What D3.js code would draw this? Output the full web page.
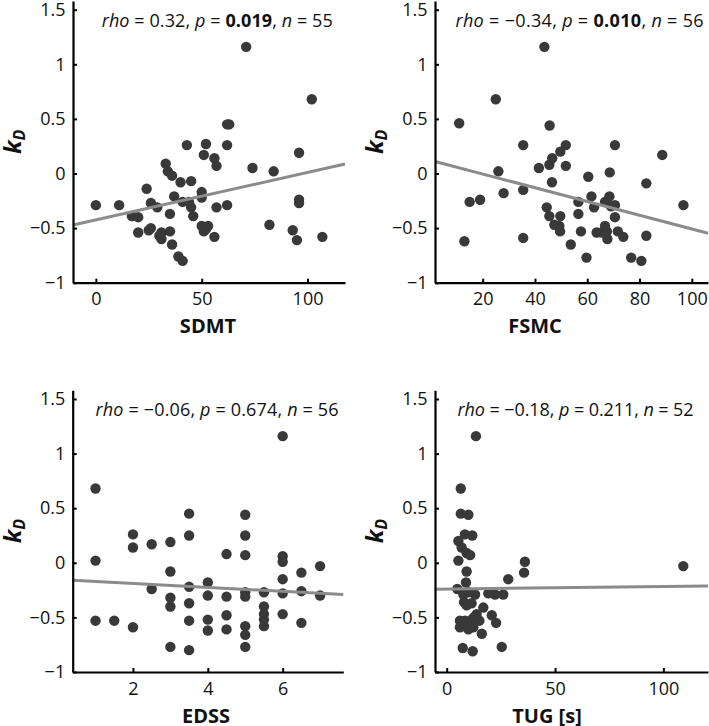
<!DOCTYPE html>
<html><head><meta charset="utf-8">
<script src="https://cdn.jsdelivr.net/npm/d3@7"></script>
<style>
body{margin:0;background:#fff}
svg{display:block}
text{font-family:'Open Sans',sans-serif;fill:#111}
</style>
</head><body>
<svg id="c" width="709" height="726"></svg>
<script>
// ---------- data ----------
const sdmtX = [0,11,17,20,20,24,26,25,26,29,30,31,31,33,34,36,35,35,36,37,40,39,41,41,43,44,45,45,46,50,50,50,51,52,53,52,51,56,57,56,57,62,63,62,62,71,74,82,84,93,95,96,96,96,102,107];
const sdmtY = [-0.29,-0.29,-0.39,-0.40,-0.54,-0.14,-0.27,-0.52,-0.50,-0.31,-0.57,-0.54,-0.60,0.09,0.02,-0.02,-0.37,-0.53,-0.65,-0.21,-0.08,-0.76,-0.80,-0.26,0.26,-0.26,-0.07,-0.31,-0.39,-0.17,-0.22,-0.48,-0.53,-0.51,-0.48,0.27,0.17,0.14,0.07,-0.58,-0.31,0.45,0.45,0.26,-0.29,1.16,0.05,-0.47,0.02,-0.52,-0.61,0.19,-0.24,-0.27,0.68,-0.58];

const fsmcX = [11,13,15,19,25,26,28,35.5,35.5,35.5,41.5,43.6,44.5,45.5,45.5,45.6,46.5,46.6,47.4,49.3,49.6,49.7,49.7,51.8,51.8,53.7,56.6,56.6,57.6,59.7,60.4,61.6,62.6,63.6,65.5,66.8,66.8,67.5,67.7,68.5,68.6,69.1,70.6,70.6,70.6,71.7,73.8,76.8,80.7,82.6,82.6,88.7,96.8];
const fsmcY = [0.46,-0.62,-0.26,-0.24,0.68,0.02,-0.18,0.26,-0.15,-0.59,0.05,1.16,-0.31,-0.39,0.08,0.44,-0.08,0.14,-0.47,-0.48,-0.53,0.20,-0.39,0.26,0.07,-0.65,-0.26,-0.37,-0.53,-0.77,-0.03,-0.21,-0.31,-0.54,-0.54,-0.26,-0.48,-0.53,-0.60,-0.21,0.01,-0.30,-0.29,0.26,-0.40,-0.53,-0.58,-0.77,-0.80,-0.09,-0.57,0.17,-0.29];

const edssX = [1,1,1,1.5,2,2,2,2.5,2.5,3,3,3,3,3,3.5,3.5,3.5,3.5,3.5,3.5,4,4,4,4,4.5,4.5,4.5,4.5,5,5,5,5,5,5,5,5,5.5,5.5,5.5,5.5,5.5,6,6,6,6,6,6,6.5,6.5,6.5,7,7];
const edssY = [0.68,0.02,-0.53,-0.53,0.26,0.14,-0.59,0.17,-0.24,0.19,-0.08,-0.32,-0.40,-0.77,0.45,0.25,-0.22,-0.37,-0.53,-0.80,-0.18,-0.30,-0.52,-0.62,0.08,-0.31,-0.48,-0.61,0.44,0.25,0.07,-0.27,-0.31,-0.58,-0.66,-0.77,-0.27,-0.40,-0.47,-0.52,-0.58,1.16,0.06,0.01,-0.15,-0.28,-0.47,-0.09,-0.26,-0.55,-0.03,-0.30];

const tugX = [13.5,6.5,6.5,10.0,8.4,11.8,5.4,6.9,9.2,10.8,5.4,36.1,35.7,9.2,28.4,8.9,4.9,7.7,10.0,13.1,19.2,22.3,26.1,8.0,9.2,16.9,20.8,22.8,6.1,6.1,8.4,10.8,12.3,13.8,15.1,10.0,16.2,7.4,12.0,25.4,11.5,109.2,7.5,9.0,11.5,12.5];
const tugY = [1.16,0.68,0.45,0.44,0.26,0.25,0.20,0.14,0.09,0.07,0.02,0.01,-0.09,-0.08,-0.15,-0.18,-0.24,-0.29,-0.27,-0.29,-0.28,-0.29,-0.29,-0.36,-0.39,-0.41,-0.48,-0.55,-0.53,-0.59,-0.53,-0.55,-0.59,-0.47,-0.53,-0.61,-0.65,-0.78,-0.81,-0.77,-0.37,-0.03,-0.55,-0.57,-0.52,-0.50];

const xLabels = ["SDMT","FSMC","EDSS","TUG [s]"];
const xTickVals = [[0,50,100],[20,40,60,80,100],[2,4,6],[0,50,100]];
const yTickVals = [-1,-0.5,0,0.5,1,1.5];
const yTickLabels = ["\u22121","\u22120.5","0","0.5","1","1.5"];
const statRho = ["0.32","\u22120.34","\u22120.06","\u22120.18"];
const statP = ["0.019","0.010","0.674","0.211"];
const statSig = [true,true,false,false];
const statN = ["55","56","56","52"];
const fitIntercept = [-0.424, 0.121, -0.153, -0.2407];
const fitSlope = [0.004335, -0.006288, -0.01798, 0.000238];

// ---------- layout ----------
const panels = [
  {xs:sdmtX, ys:sdmtY, xDom:[-10.8,117.7], x0:73,  x1:345, yb:282.7, labC:208, annX:101.7, annW:231},
  {xs:fsmcX, ys:fsmcY, xDom:[1.75,106.2],  x0:435, x1:708, yb:282.7, labC:535, annX:455.5, annW:248},
  {xs:edssX, ys:edssY, xDom:[0.39,7.62],   x0:72.7,x1:343.3,yb:672,  labC:206, annX:95.5,  annW:243},
  {xs:tugX,  ys:tugY,  xDom:[-5.4,120.6],  x0:435, x1:708, yb:672,  labC:547, annX:457.5, annW:236}
];
const yDom = [-1, 1.58];
const pxPerUnit = 109.2;

const svg = d3.select("#c");
const dotCol = "#393939", lineCol = "#8b8b8b";

panels.forEach((p, i) => {
  const x = d3.scaleLinear().domain(p.xDom).range([p.x0, p.x1]);
  const y = d3.scaleLinear().domain(yDom).range([p.yb, p.yb - (yDom[1]-yDom[0])*pxPerUnit]);
  const g = svg.append("g");

  g.selectAll("circle").data(d3.range(p.xs.length)).join("circle")
    .attr("cx", k => x(p.xs[k])).attr("cy", k => y(p.ys[k])).attr("r", 5.2)
    .attr("fill", dotCol);

  const lx = p.xDom;
  g.append("line")
    .attr("x1", x(lx[0])).attr("y1", y(fitIntercept[i] + fitSlope[i]*lx[0]))
    .attr("x2", x(lx[1])).attr("y2", y(fitIntercept[i] + fitSlope[i]*lx[1]))
    .attr("stroke", lineCol).attr("stroke-width", 3);

  const ax = g.append("g").attr("transform", `translate(0,${p.yb})`)
    .call(d3.axisBottom(x).tickValues(xTickVals[i]).tickSize(-4).tickSizeOuter(0).tickPadding(10).tickFormat(d3.format("d")));
  const ay = g.append("g").attr("transform", `translate(${p.x0},0)`)
    .call(d3.axisLeft(y).tickValues(yTickVals).tickSize(-4).tickSizeOuter(0).tickPadding(7.5)
      .tickFormat((d,k) => yTickLabels[k]));
  [ax, ay].forEach(a => {
    a.select(".domain").attr("stroke", "#000").attr("stroke-width", 2.2);
    a.selectAll(".tick line").attr("stroke", "#000").attr("stroke-width", 2);
    a.selectAll(".tick text").attr("font-size", 18).attr("fill", "#111")
      .attr("font-family", "'Open Sans',sans-serif");
  });

  g.append("text").attr("x", p.labC).attr("y", p.yb + 50.5).attr("text-anchor", "middle")
    .attr("font-size", 20).attr("font-weight", "bold").text(xLabels[i]);

  const yl = g.append("text")
    .attr("transform", `translate(${p.x0 - 52},${(y(yDom[0]) + y(yDom[1]))/2}) rotate(-90)`)
    .attr("text-anchor", "middle").attr("font-size", 24).attr("font-weight", "bold").attr("font-style", "italic");
  yl.append("tspan").text("k");
  yl.append("tspan").attr("font-size", 16).attr("dy", 4).text("D");

  const t = g.append("text").attr("x", p.annX).attr("y", p.yb - 255.7).attr("font-size", 18);
  t.append("tspan").attr("font-style", "italic").text("rho");
  t.append("tspan").text(" = " + statRho[i] + ", ");
  t.append("tspan").attr("font-style", "italic").text("p");
  t.append("tspan").text(" = ");
  t.append("tspan").attr("font-weight", statSig[i] ? "bold" : "normal").text(statP[i]);
  t.append("tspan").text(", ");
  t.append("tspan").attr("font-style", "italic").text("n");
  t.append("tspan").text(" = " + statN[i]);
  // stretch spacing slightly so the line spans the same width as in the reference
  const bb = t.node().getBBox();
  const nChars = t.text().length;
  const ls = (p.annW - bb.width) / Math.max(1, nChars - 1);
  if (Math.abs(ls) < 1.5) t.attr("letter-spacing", ls.toFixed(2));
});
</script>
</body></html>
